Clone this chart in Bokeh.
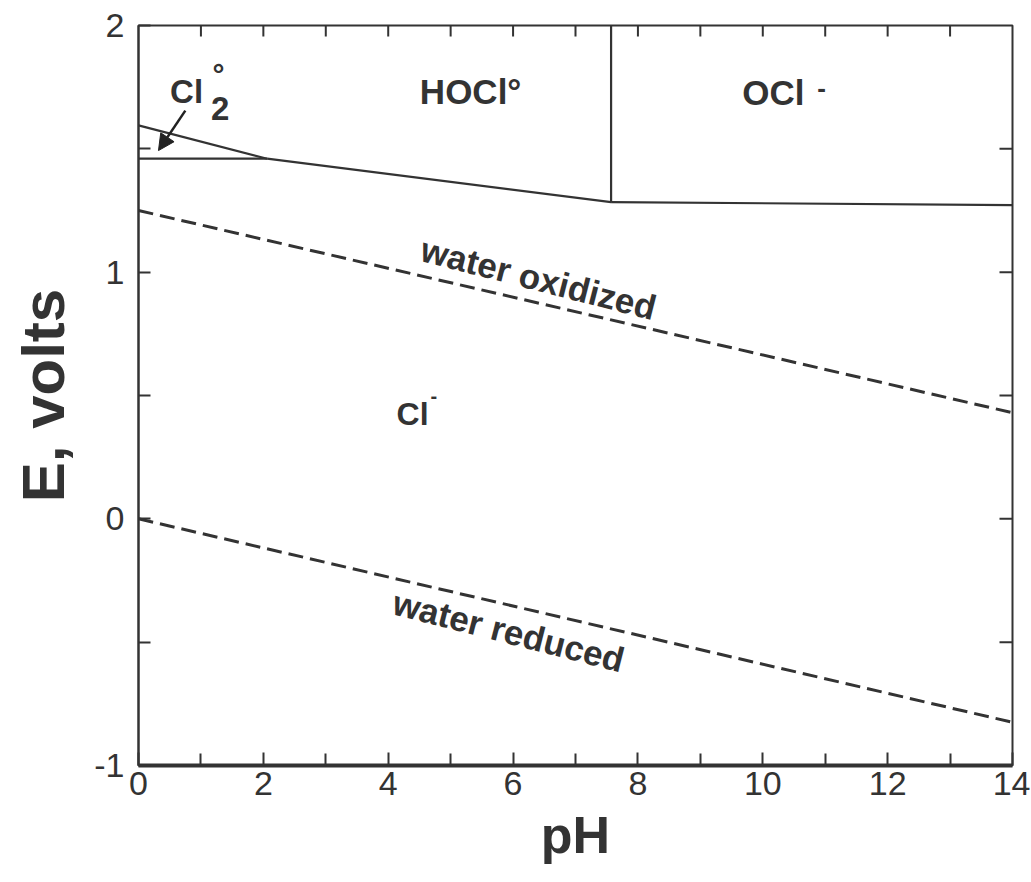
import math
from bokeh.plotting import figure
from bokeh.models import FixedTicker, Label, Arrow, NormalHead, Range1d
from bokeh.embed import file_html
from bokeh.resources import INLINE

# ---- data (pH, E in volts) ----
cl2_hocl_ph = [0.0, 2.06]
cl2_hocl_e = [1.595, 1.46]
cl2_cl_ph = [0.0, 2.06]
cl2_cl_e = [1.46, 1.46]
hocl_cl_ph = [2.06, 7.57]
hocl_cl_e = [1.46, 1.284]
hocl_ocl_ph = [7.57, 7.57]
hocl_ocl_e = [1.284, 2.0]
ocl_cl_ph = [7.57, 14.0]
ocl_cl_e = [1.284, 1.272]
water_ox_ph = [0.0, 14.0]
water_ox_e = [1.25, 0.43]
water_red_ph = [0.0, 14.0]
water_red_e = [0.0, -0.825]

x_major = [0, 2, 4, 6, 8, 10, 12, 14]
x_minor = [1, 3, 5, 7, 9, 11, 13]
x_top = list(range(1, 14))
y_major = [-1, 0, 1, 2]
y_minor = [-0.5, 0.5, 1.5]
y_right = [-0.5, 0, 0.5, 1, 1.5]

INK = "#333333"
FONT = "Liberation Sans"

X0, X1 = 0, 14
Y0, Y1 = -1, 2

p = figure(width=1030, height=880, x_range=Range1d(X0, X1), y_range=Range1d(Y0, Y1),
           output_backend="svg", toolbar_location=None,
           min_border_left=138, min_border_right=18, min_border_top=25, min_border_bottom=115)
p.grid.visible = False
p.outline_line_color = INK
p.outline_line_width = 2
p.background_fill_color = "white"
p.border_fill_color = "white"

# bottom axis
xa = p.xaxis[0]
xa.ticker = FixedTicker(ticks=x_major, minor_ticks=x_minor)
xa.axis_line_width = 4
xa.axis_line_color = INK
xa.major_tick_in = 13
xa.major_tick_out = 0
xa.minor_tick_in = 12
xa.minor_tick_out = 0
xa.major_tick_line_color = INK
xa.minor_tick_line_color = INK
xa.major_tick_line_width = 2
xa.minor_tick_line_width = 2
xa.major_label_text_font = FONT
xa.major_label_text_font_size = "34px"
xa.major_label_text_color = INK
xa.major_label_standoff = 6
xa.axis_label = "pH"
xa.axis_label_text_font = FONT
xa.axis_label_text_font_style = "bold"
xa.axis_label_text_font_size = "52px"
xa.axis_label_text_color = INK
xa.axis_label_standoff = 8

# left axis
ya = p.yaxis[0]
ya.ticker = FixedTicker(ticks=y_major, minor_ticks=y_minor)
ya.axis_line_width = 2
ya.axis_line_color = INK
ya.major_tick_in = 12
ya.major_tick_out = 0
ya.minor_tick_in = 12
ya.minor_tick_out = 0
ya.major_tick_line_color = INK
ya.minor_tick_line_color = INK
ya.major_tick_line_width = 2
ya.minor_tick_line_width = 2
ya.major_label_text_font = FONT
ya.major_label_text_font_size = "34px"
ya.major_label_text_color = INK
ya.major_label_standoff = 14
ya.major_label_overrides = {-1: "-1"}
ya.axis_label = "E, volts"
ya.axis_label_text_font = FONT
ya.axis_label_text_font_style = "bold"
ya.axis_label_text_font_size = "60px"
ya.axis_label_text_color = INK
ya.axis_label_standoff = 14

# inward ticks along the top and right borders
p.ray(x=x_top, y=[Y1] * len(x_top), length=11, length_units="screen",
      angle=-math.pi / 2, line_color=INK, line_width=2)
p.ray(x=[X1] * len(y_right), y=y_right, length=13, length_units="screen",
      angle=math.pi, line_color=INK, line_width=2)

# boundaries
for xs, ys in [(cl2_hocl_ph, cl2_hocl_e), (cl2_cl_ph, cl2_cl_e), (hocl_cl_ph, hocl_cl_e),
               (hocl_ocl_ph, hocl_ocl_e), (ocl_cl_ph, ocl_cl_e)]:
    p.line(xs, ys, line_color=INK, line_width=2.2)

p.line(water_ox_ph, water_ox_e, line_color=INK, line_width=3, line_dash="15 7")
p.line(water_red_ph, water_red_e, line_color=INK, line_width=3, line_dash="15 7")

def lab(x, y, t, size, angle=0.0, align="center", baseline="middle"):
    p.add_layout(Label(x=x, y=y, text=t, text_font=FONT, text_font_style="bold",
                       text_font_size=size, text_color=INK, text_align=align,
                       text_baseline=baseline, angle=angle, angle_units="rad"))

# species labels
lab(0.77, 1.732, "Cl", "33px")
lab(1.31, 1.665, "2", "33px")
lab(1.28, 1.80, "°", "30px")
lab(5.32, 1.732, "HOCl°", "35px")
lab(10.17, 1.728, "OCl", "35px")
lab(10.94, 1.745, "-", "26px")
lab(4.39, 0.425, "Cl", "32px")
lab(4.73, 0.50, "-", "20px")
lab(6.41, 0.975, "water oxidized", "35px", angle=-0.25)
lab(5.93, -0.455, "water reduced", "35px", angle=-0.25)

p.add_layout(Arrow(end=NormalHead(size=16, fill_color="#222222", line_color="#222222"),
                   x_start=0.75, y_start=1.655, x_end=0.32, y_end=1.493,
                   line_color="#222222", line_width=2.5))

open("out.html", "w").write(file_html(p, INLINE))
